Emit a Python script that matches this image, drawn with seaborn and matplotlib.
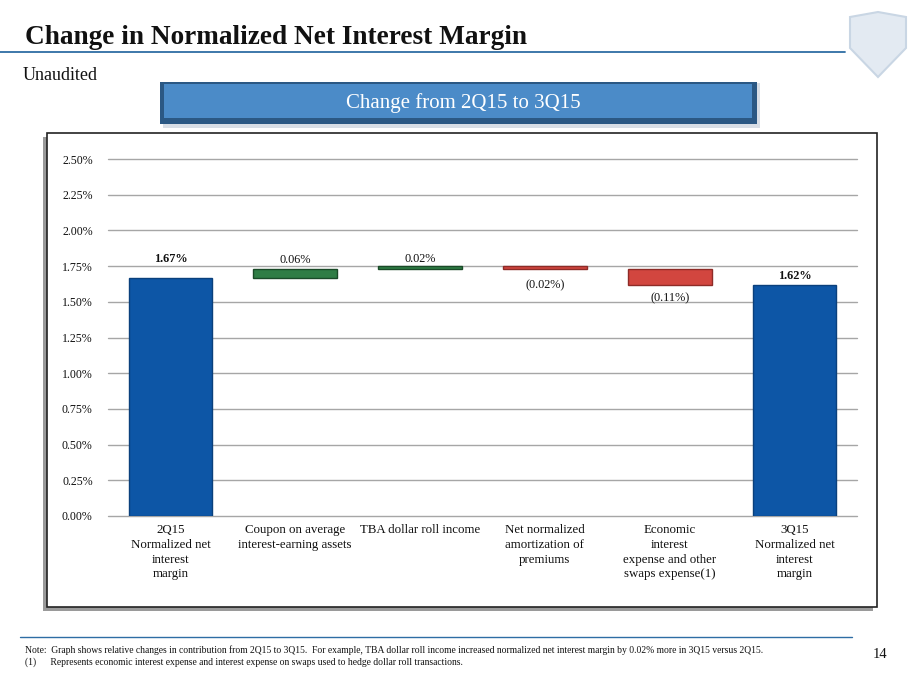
import numpy as np
import pandas as pd
import matplotlib
matplotlib.use("Agg")
import matplotlib.pyplot as plt
from matplotlib.patches import Rectangle, Polygon
import seaborn as sns

# chart data (percent)
categories = [
    "2Q15\nNormalized net\ninterest\nmargin",
    "Coupon on average\ninterest-earning assets",
    "TBA dollar roll income",
    "Net normalized\namortization of\npremiums",
    "Economic\ninterest\nexpense and other\nswaps expense(1)",
    "3Q15\nNormalized net\ninterest\nmargin",
]
steps = [1.67, 0.06, 0.02, -0.02, -0.11, 1.62]
step_kind = ["total", "delta", "delta", "delta", "delta", "total"]
value_labels = ["1.67%", "0.06%", "0.02%", "(0.02%)", "(0.11%)", "1.62%"]
y_ticks = [0.0, 0.25, 0.5, 0.75, 1.0, 1.25, 1.5, 1.75, 2.0, 2.25, 2.5]

# build waterfall bottoms / heights
bottoms, heights = [], []
running = 0.0
for v, k in zip(steps, step_kind):
    if k == "total":
        bottoms.append(0.0)
        heights.append(v)
        running = v
    else:
        lo = min(running, running + v)
        bottoms.append(lo)
        heights.append(abs(v))
        running += v
df = pd.DataFrame({"cat": categories, "height": heights, "bottom": bottoms,
                   "kind": step_kind, "step": steps})

W, H = 920, 690
sns.set_theme(style="white")
plt.rcParams["font.family"] = ["Liberation Serif", "DejaVu Serif"]

fig = plt.figure(figsize=(9.2, 6.9), dpi=100)
fig.patch.set_facecolor("white")


def fx(x):
    return x / W


def fy(y):
    return 1 - y / H


# header
fig.text(fx(25), fy(38), "Change in Normalized Net Interest Margin",
         fontsize=19.6, fontweight="bold", color="#111111", va="center", ha="left")
fig.add_artist(plt.Line2D([fx(0), fx(845)], [fy(52), fy(52)], color="#2E6DA4", lw=1.3))
fig.text(fx(23), fy(75), "Unaudited", fontsize=13, color="#111111", va="center")

# logo shield (decorative)
shield = Polygon([(fx(850), fy(17)), (fx(878), fy(12)), (fx(906), fy(17)),
                  (fx(906), fy(48)), (fx(878), fy(77)), (fx(850), fy(48))],
                 closed=True, transform=fig.transFigure, facecolor="#E3EAF2",
                 edgecolor="#C9D6E4", lw=1.5)
fig.add_artist(shield)

# banner
fig.add_artist(Rectangle((fx(163), fy(128)), fx(597), 45 / H, transform=fig.transFigure,
                         facecolor="#D8DEE6", edgecolor="none"))
fig.add_artist(Rectangle((fx(160), fy(124)), fx(597), 42 / H, transform=fig.transFigure,
                         facecolor="#2B5884", edgecolor="none"))
fig.add_artist(Rectangle((fx(164), fy(118)), fx(588), 34 / H, transform=fig.transFigure,
                         facecolor="#4B8BC8", edgecolor="none"))
fig.text(fx(463), fy(103), "Change from 2Q15 to 3Q15", fontsize=15, color="white",
         ha="center", va="center")

# chart box with shadow
fig.add_artist(Rectangle((fx(43), fy(611)), fx(830), 474 / H, transform=fig.transFigure,
                         facecolor="#9A9A9A", edgecolor="none"))
fig.add_artist(Rectangle((fx(47), fy(607)), fx(830), 474 / H, transform=fig.transFigure,
                         facecolor="white", edgecolor="#222222", lw=1.2))

# axes
ax = fig.add_axes([fx(108), fy(516), fx(857 - 108), (516 - 159) / H])
ax.set_zorder(10)
ax.set_facecolor("none")
for yt in y_ticks:
    ax.axhline(yt, color="#A6A6A6", lw=1.0, zorder=0, clip_on=False)

sns.barplot(data=df, x="cat", y="height", bottom=df["bottom"].values, order=categories,
            color="#0D56A6", width=0.67, ax=ax, zorder=3)

for p, k, s in zip(ax.patches, step_kind, steps):
    if k == "total":
        p.set_facecolor("#0D56A6")
        p.set_edgecolor("#0A407C")
    elif s > 0:
        p.set_facecolor("#2F7D45")
        p.set_edgecolor("#1A4A28")
    else:
        p.set_facecolor("#D2463F")
        p.set_edgecolor("#8E2B27")
    p.set_linewidth(1.0)

# value labels: offsets in points from top (positive) or bottom (negative)
label_offsets = [9, 2, 0.5, -7.5, -5.5, 2]
for i, (lab, k, s, off) in enumerate(zip(value_labels, step_kind, steps, label_offsets)):
    top = df["bottom"][i] + df["height"][i]
    if k == "total" or s > 0:
        y0, va = top, "bottom"
    else:
        y0, va = df["bottom"][i], "top"
    ax.annotate(lab, (i, y0), xytext=(0, off), textcoords="offset points",
                ha="center", va=va, fontsize=8.8, color="#111111",
                fontweight="bold" if k == "total" else "normal")

ax.set_ylim(0, 2.5)
ax.set_xlim(-0.5, 5.5)
ax.set_yticks(y_ticks)
ax.set_yticklabels([f"{t:.2f}%" for t in y_ticks], fontsize=8.6, color="#111111")
ax.set_xticks(range(len(categories)))
ax.set_xticklabels(categories, fontsize=9.3, color="#111111", linespacing=1.3)
ax.tick_params(axis="both", length=0)
ax.tick_params(axis="y", pad=11)
ax.tick_params(axis="x", pad=6)
ax.set_xlabel("")
ax.set_ylabel("")
for sp in ax.spines.values():
    sp.set_visible(False)

# footer
fig.add_artist(plt.Line2D([fx(20), fx(852)], [fy(637), fy(637)], color="#2E6DA4", lw=1.0))
fig.text(fx(25), fy(650), "Note:  Graph shows relative changes in contribution from 2Q15 to 3Q15.  "
         "For example, TBA dollar roll income increased normalized net interest margin by 0.02% "
         "more in 3Q15 versus 2Q15.", fontsize=6.9, color="#111111", va="center")
fig.text(fx(25), fy(662), "(1)      Represents economic interest expense and interest expense on "
         "swaps used to hedge dollar roll transactions.", fontsize=6.9, color="#111111", va="center")
fig.text(fx(880), fy(654), "14", fontsize=10.5, color="#111111", ha="center", va="center")

fig.savefig("out.png", dpi=100)
